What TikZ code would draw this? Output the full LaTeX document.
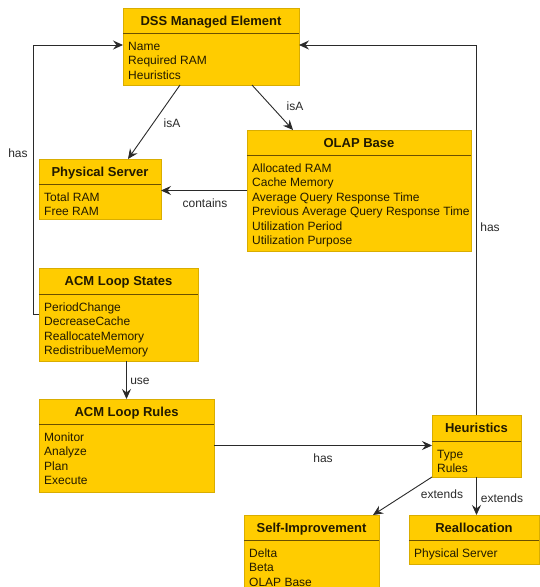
\documentclass[tikz,border=0pt]{standalone}
\usepackage{fontspec}
\setmainfont{Liberation Sans}
\usetikzlibrary{arrows.meta,calc}
\definecolor{boxfill}{HTML}{FFCC00}
\definecolor{boxedge}{HTML}{D9AD00}
\definecolor{divcol}{HTML}{6B5000}
\definecolor{txt}{HTML}{221A00}
\definecolor{linec}{HTML}{2A2A2A}

\tikzset{
 umlbox/.style={draw=boxedge, fill=boxfill, line width=0.8pt, inner sep=0pt, outer sep=0pt, anchor=north west},
 umltitle/.style={font=\fontsize{13}{15}\selectfont\bfseries, text=txt, inner sep=0pt, text height=9.3pt, text depth=0pt},
 umlattr/.style={font=\fontsize{12}{14}\selectfont, text=txt, inner sep=0pt, anchor=base west},
 divline/.style={draw=divcol, line width=0.9pt},
 conn/.style={draw=linec, line width=0.9pt, -{Stealth[length=10pt,width=9pt,inset=3.5pt]}},
 lbl/.style={font=\fontsize{12}{14}\selectfont, text=linec, inner sep=0pt},
}

\newcommand\umlclass[8]{%
 \node[umlbox, minimum width={(#4-#2)*1pt}, minimum height={(#5-#3)*1pt}] (#1) at (#2,#3) {};
 \draw[divline] (#2,#6) -- (#4,#6);
 \node[umltitle] (#1-title) at ({(#2+#4)/2},{(#3+#6)/2}) {#7};
 \foreach \t [count=\i from 0] in {#8} \node[umlattr] (#1-a\i) at (#2+5, #6+17+14.5*\i) {\t};
}

\begin{document}
\begin{tikzpicture}[x=1pt,y=-1pt]
\clip (0,0) rectangle (540,587);
\fill[white] (0,0) rectangle (540,587);

\umlclass{dss}{123}{8}{299}{85}{33}{DSS Managed Element}{Name,Required RAM,Heuristics}
\umlclass{ps}{39}{159}{161}{219}{184}{Physical Server}{Total RAM,Free RAM}
\umlclass{olap}{247}{130}{471}{251}{155}{OLAP Base}{Allocated RAM,Cache Memory,Average Query Response Time,Previous Average Query Response Time,Utilization Period,Utilization Purpose}
\umlclass{states}{39}{268}{198}{361}{294}{ACM Loop States}{PeriodChange,DecreaseCache,ReallocateMemory,RedistribueMemory}
\umlclass{rules}{39}{399}{214}{492}{424}{ACM Loop Rules}{Monitor,Analyze,Plan,Execute}
\umlclass{heur}{432}{415}{521}{477}{441}{Heuristics}{Type,Rules}
\umlclass{self}{244}{515}{379}{592}{540}{Self-Improvement}{Delta,Beta,OLAP Base}
\umlclass{realloc}{409}{515}{539}{564}{540}{Reallocation}{Physical Server}

% connectors
\draw[conn] (states.west) -- ++(-6,0) |- ([yshift=1.5pt]dss.west);
\draw[conn] (heur.north) |- ([yshift=1.5pt]dss.east);
\draw[conn] ([xshift=-31pt]dss.south) -- ([xshift=28pt]ps.north);
\draw[conn] ([xshift=41pt]dss.south) -- ([xshift=-66pt]olap.north);
\draw[conn] (olap.west) -- (olap.west -| ps.east);
\draw[conn] (rules.north |- states.south) -- (rules.north);
\draw[conn] (rules.east) -- (rules.east -| heur.west);
\draw[conn] (heur.south west) -- ([xshift=-6pt]self.north east);
\draw[conn] (heur.south) -- (heur.south |- realloc.north);

% labels
\node[lbl] (l1) at (18,153) {has};
\node[lbl] (l2) at (172,123) {isA};
\node[lbl] (l3) at (295,106) {isA};
\node[lbl] (l4) at (205,203) {contains};
\node[lbl] (l5) at (490,227) {has};
\node[lbl] (l6) at (140,381) {use};
\node[lbl] (l7) at (323,458) {has};
\node[lbl] (l8) at (442,494) {extends};
\node[lbl] (l9) at (502,498) {extends};
\end{tikzpicture}
\end{document}
